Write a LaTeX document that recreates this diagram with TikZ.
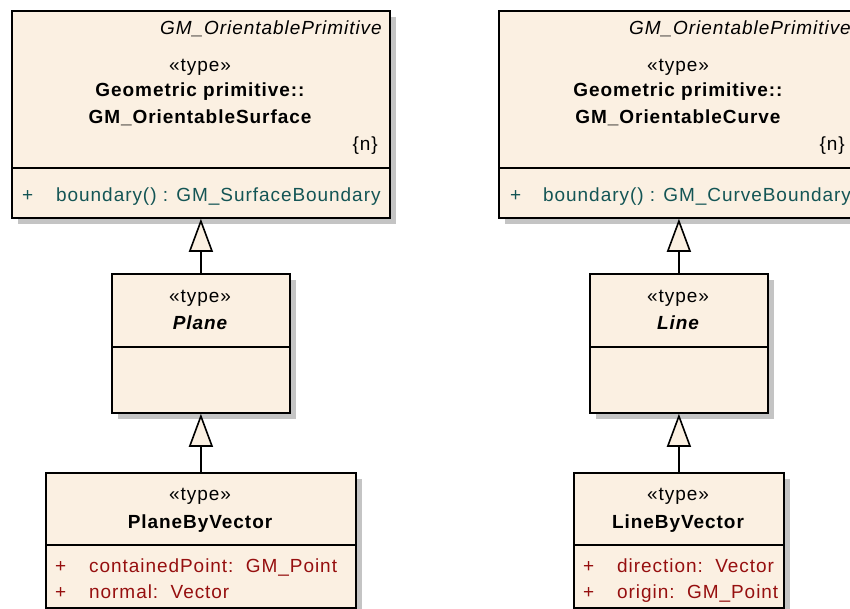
\documentclass[tikz,border=0pt]{standalone}
\usepackage{fontspec}
\setmainfont{Liberation Sans}[LetterSpace=5]
\usetikzlibrary{arrows.meta,shadows}
\definecolor{boxfill}{RGB}{251,240,226}
\definecolor{opcol}{RGB}{20,85,85}
\definecolor{attcol}{RGB}{150,15,15}
\definecolor{shadowcol}{RGB}{196,196,196}
\begin{document}
\begin{tikzpicture}[x=1pt,y=-1pt,
  every node/.style={inner sep=0pt},
  classbox/.style={rectangle, draw=black, line width=1.8pt, fill=boxfill,
    drop shadow={shadow xshift=6pt, shadow yshift=-6pt, fill=shadowcol, opacity=1},
    anchor=north west},
  divider/.style={line width=1.6pt},
  txt/.style={anchor=base},
  rtxt/.style={anchor=base east},
  ltxt/.style={anchor=base west},
  bold/.style={anchor=base, font=\bfseries},
  op/.style={anchor=base west, text=opcol},
  att/.style={anchor=base west, text=attcol},
  gen/.style={line width=1.6pt, -{Triangle[length=33pt,width=24pt,fill=boxfill]}}
]
\fontsize{19}{22}\selectfont
\clip (0,0) rectangle (850,609);

% ---------- boxes ----------
\node[classbox, minimum width=378pt, minimum height=207pt] (surf) at (11,10) {};
\node[classbox, minimum width=360pt, minimum height=207pt] (curve) at (498,10) {};
\node[classbox, minimum width=178pt, minimum height=139pt] (plane) at (111,273) {};
\node[classbox, minimum width=178pt, minimum height=139pt] (line) at (589,273) {};
\node[classbox, minimum width=310pt, minimum height=135pt] (pbv) at (45,472) {};
\node[classbox, minimum width=210pt, minimum height=135pt] (lbv) at (573,472) {};

% ---------- dividers ----------
\draw[divider] (11,168) -- (389,168);
\draw[divider] (498,168) -- (858,168);
\draw[divider] (111,347) -- (289,347);
\draw[divider] (589,347) -- (767,347);
\draw[divider] (45,545) -- (355,545);
\draw[divider] (573,545) -- (783,545);

% ---------- GM_OrientableSurface ----------
\node[rtxt, font=\itshape] (s0) at (382,35) {GM\_OrientablePrimitive};
\node[txt] (s1) at (200,72) {«type»};
\node[bold] (s2) at (200,97) {Geometric primitive::};
\node[bold] (s3) at (200,124) {GM\_OrientableSurface};
\node[rtxt] (s4) at (378,151) {\{n\}};
\node[op] (s5) at (22,202) {+};
\node[op] (s6) at (56,202) {boundary() : GM\_SurfaceBoundary};

% ---------- GM_OrientableCurve ----------
\node[rtxt, font=\itshape] (c0) at (851,35) {GM\_OrientablePrimitive};
\node[txt] (c1) at (678,72) {«type»};
\node[bold] (c2) at (678,97) {Geometric primitive::};
\node[bold] (c3) at (678,124) {GM\_OrientableCurve};
\node[rtxt] (c4) at (845,151) {\{n\}};
\node[op] (c5) at (510,202) {+};
\node[op] (c6) at (543,202) {boundary() : GM\_CurveBoundary};

% ---------- Plane ----------
\node[txt] (p1) at (200,302) {«type»};
\node[bold, font=\bfseries\itshape] (p2) at (200,329) {Plane};

% ---------- Line ----------
\node[txt] (l1) at (678,302) {«type»};
\node[bold, font=\bfseries\itshape] (l2) at (678,329) {Line};

% ---------- PlaneByVector ----------
\node[txt] (pv1) at (200,500) {«type»};
\node[bold] (pv2) at (200,528) {PlaneByVector};
\node[att] (pv3) at (55,572) {+};
\node[att] (pv4) at (89,572) {containedPoint:~~GM\_Point};
\node[att] (pv5) at (55,598) {+};
\node[att] (pv6) at (89,598) {normal:~~Vector};

% ---------- LineByVector ----------
\node[txt] (lv1) at (678,500) {«type»};
\node[bold] (lv2) at (678,528) {LineByVector};
\node[att] (lv3) at (583,572) {+};
\node[att] (lv4) at (617,572) {direction:~~Vector};
\node[att] (lv5) at (583,598) {+};
\begin{scope}
  \clip (573,546) rectangle (782,609);
  \node[att] (lv6) at (617,598) {origin:~~GM\_Point};
\end{scope}

% ---------- generalizations ----------
\draw[gen] (plane.north) -- (surf.south);
\draw[gen] (pbv.north -| plane.north) -- (plane.south);
\draw[gen] (line.north) -- (curve.south -| line.north);
\draw[gen] (lbv.north) -- (line.south);
\end{tikzpicture}
\end{document}
